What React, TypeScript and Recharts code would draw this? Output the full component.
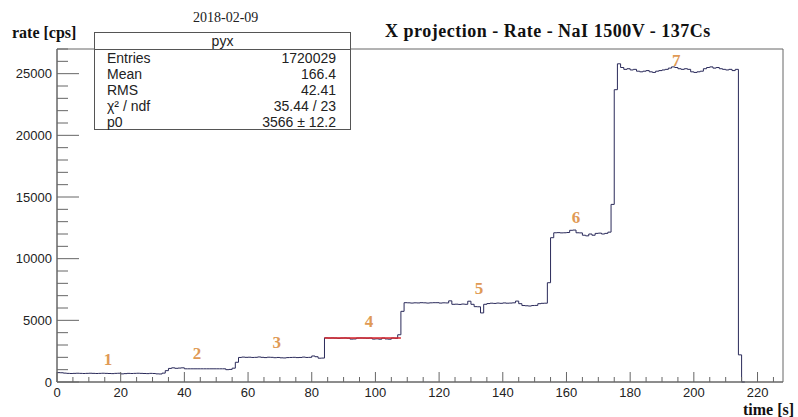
import { Line, LineChart, ReferenceArea, ReferenceDot, XAxis, YAxis } from "recharts";

// rate per 1 s bin, t = 0 .. 215
const RATE = [
  760, 750, 720, 700, 690, 700, 710, 700, 690, 700,
  710, 700, 690, 700, 710, 700, 690, 680, 700, 710,
  660, 680, 700, 690, 700, 710, 700, 690, 680, 700,
  690, 660, 650, 720, 920, 1100, 1150, 1110, 1130, 1150,
  1070, 1070, 1070, 1070, 1070, 1070, 1070, 1070, 1070, 1070,
  1070, 1070, 1070, 1000, 1020, 1120, 1600, 1990, 2020, 2000,
  2010, 1990, 2000, 2030, 2000, 1980, 2010, 2000, 1970, 1990,
  1960, 1950, 1980, 1990, 2000, 1980, 1990, 2020, 1990, 2000,
  2110, 2050, 1930, 1940, 3580, 3560, 3570, 3560, 3540, 3560,
  3570, 3550, 3480, 3490, 3560, 3570, 3560, 3550, 3560, 3480,
  3500, 3470, 3560, 3490, 3470, 3560, 3540, 3830, 5730, 6430,
  6420, 6400, 6420, 6410, 6430, 6420, 6400, 6420, 6430, 6430,
  6400, 6420, 6410, 6580, 6300, 6310, 6290, 6320, 6300, 6550,
  6300, 6110, 6100, 5600, 6300, 6360, 6390, 6370, 6400, 6380,
  6410, 6390, 6400, 6420, 6560, 6350, 6200, 6180, 6160, 6200,
  6210, 6350, 6380, 6390, 8050, 11700, 12100, 12110, 12090, 12100,
  12120, 12300, 12320, 12100, 12090, 11900, 11850, 12000, 11900, 12050,
  12070, 12000, 12050, 12150, 14400, 23700, 25800, 25500, 25350, 25400,
  25300, 25350, 25200, 25150, 25200, 25250, 25150, 25100, 25200, 25250,
  25300, 25350, 25450, 25550, 25500, 25400, 25350, 25400, 25350, 25150,
  25100, 25150, 25200, 25400, 25500, 25550, 25450, 25500, 25400, 25350,
  25300, 25350, 25250, 25350, 2200, 0,
];

// pol0 fit over the 4th plateau
const FIT_FROM = 84;
const FIT_TO = 108;
const FIT_P0 = 3566;

const X_MAX = 228;
const Y_MAX = 27000;
const X_TICKS = [0, 5, 10, 15, 20, 25, 30, 35, 40, 45, 50, 55, 60, 65, 70, 75, 80, 85, 90, 95, 100, 105, 110, 115, 120, 125, 130, 135, 140, 145, 150, 155, 160, 165, 170, 175, 180, 185, 190, 195, 200, 205, 210, 215, 220, 225];
const Y_TICKS = [0, 1000, 2000, 3000, 4000, 5000, 6000, 7000, 8000, 9000, 10000, 11000, 12000, 13000, 14000, 15000, 16000, 17000, 18000, 19000, 20000, 21000, 22000, 23000, 24000, 25000, 26000, 27000];

const STEP_NAMES = ["1", "2", "3", "4", "5", "6", "7"];
const STEP_T = [16, 44, 69, 98, 132.5, 163, 194.5];
const STEP_RATE = [1870, 2350, 3280, 4950, 7600, 13350, 26100];

const STAT_NAMES = ["Entries", "Mean", "RMS", "\u03c7\u00b2 / ndf", "p0"];
const STAT_VALUES = ["1720029", "166.4", "42.41", "35.44 / 23", "3566 \u00b1 12.2"];

const AXIS = "#666";
const LINE = "#2a2a5a";
const ORANGE = "#e09a55";
const SANS = "'Liberation Sans', Arial, sans-serif";
const SERIF = "'Liberation Serif', 'Times New Roman', serif";

const data: { t: number; rate: number; fit?: number }[] = RATE.map((r, i) => ({
  t: i,
  rate: r,
  fit: i >= FIT_FROM && i <= FIT_TO ? FIT_P0 : undefined,
}));
data.push({ t: RATE.length, rate: RATE[RATE.length - 1] });

function XTick(props: any) {
  const { x, y, payload } = props;
  const v = payload.value;
  const major = v % 20 === 0;
  return (
    <g>
      <line x1={x} y1={y} x2={x} y2={y - (major ? 10 : 5)} stroke={AXIS} />
      {major && (
        <text x={x} y={y + 15} textAnchor="middle" fontSize={13} fontFamily={SANS} fill="#222">
          {v}
        </text>
      )}
    </g>
  );
}

function YTick(props: any) {
  const { x, y, payload } = props;
  const v = payload.value;
  const major = v % 5000 === 0;
  return (
    <g>
      <line x1={x} y1={y} x2={x + (major ? 22 : 11)} y2={y} stroke={AXIS} />
      {major && (
        <text x={x - 5} y={y + 4.5} textAnchor="end" fontSize={13} fontFamily={SANS} fill="#222">
          {v}
        </text>
      )}
    </g>
  );
}

const abs = (left: number, top: number, extra: any = {}) => ({
  position: "absolute" as const,
  left,
  top,
  whiteSpace: "nowrap" as const,
  ...extra,
});

export default function App() {
  return (
    <div style={{ position: "absolute", left: 0, top: 0, width: 798, height: 417, background: "#fff", overflow: "hidden" }}>
      <LineChart width={798} height={417} data={data} margin={{ top: 49, right: 15, bottom: 0, left: 0 }}>
        <XAxis
          dataKey="t"
          type="number"
          domain={[0, X_MAX]}
          ticks={X_TICKS}
          interval={0}
          height={35}
          tickSize={0}
          tickMargin={0}
          tickLine={false}
          stroke={AXIS}
          tick={<XTick />}
        />
        <YAxis
          type="number"
          domain={[0, Y_MAX]}
          ticks={Y_TICKS}
          interval={0}
          width={57}
          tickSize={0}
          tickMargin={0}
          tickLine={false}
          stroke={AXIS}
          tick={<YTick />}
        />
        <ReferenceArea x1={0} x2={X_MAX} y1={0} y2={Y_MAX} fill="none" stroke={AXIS} />
        <Line dataKey="rate" type="stepAfter" stroke={LINE} strokeWidth={1} dot={false} isAnimationActive={false} />
        <Line dataKey="fit" type="linear" stroke="#d8232a" strokeWidth={1.6} dot={false} isAnimationActive={false} />
        {STEP_NAMES.map((n, i) => (
          <ReferenceDot
            key={n}
            x={STEP_T[i]}
            y={STEP_RATE[i]}
            r={1}
            fill="none"
            stroke="none"
            label={{ value: n, position: "center", fill: ORANGE, fontSize: 17, fontWeight: "bold", fontFamily: SERIF }}
          />
        ))}
      </LineChart>

      <div style={abs(193, 10, { fontFamily: SERIF, fontSize: 14, lineHeight: "16px", color: "#222" })}>2018-02-09</div>
      <div style={abs(12, 24, { fontFamily: SERIF, fontSize: 16, fontWeight: "bold", lineHeight: "18px", color: "#111" })}>rate [cps]</div>
      <div style={abs(385, 21, { fontFamily: SERIF, fontSize: 18, fontWeight: "bold", letterSpacing: 0.5, lineHeight: "20px", color: "#111" })}>
        X projection - Rate - NaI 1500V - 137Cs
      </div>
      <div style={abs(743, 401, { fontFamily: SERIF, fontSize: 16, fontWeight: "bold", lineHeight: "18px", color: "#111" })}>time [s]</div>

      <div
        style={abs(94, 32, {
          width: 257,
          height: 98,
          boxSizing: "border-box",
          border: "1px solid #555",
          background: "#fff",
          fontFamily: SANS,
          fontSize: 14,
          color: "#222",
        })}
      >
        <div style={{ height: 16, lineHeight: "16px", textAlign: "center", borderBottom: "1px solid #555" }}>pyx</div>
        {STAT_NAMES.map((n, i) => (
          <div key={n} style={{ display: "flex", justifyContent: "space-between", height: 16, lineHeight: "16px", padding: "0 14px 0 12px" }}>
            <span>{n}</span>
            <span>{STAT_VALUES[i]}</span>
          </div>
        ))}
      </div>
    </div>
  );
}
